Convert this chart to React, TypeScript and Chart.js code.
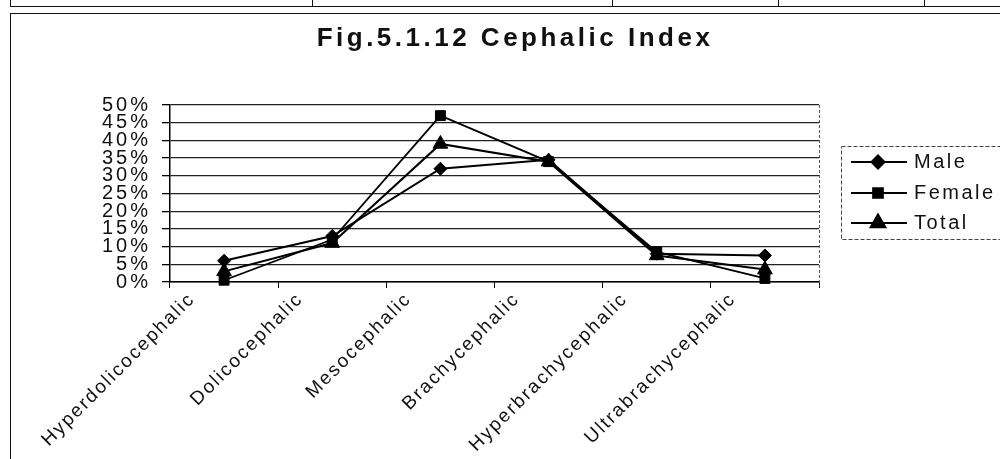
import React, { useEffect, useRef } from 'react';
import { Chart, registerables } from 'chart.js';
import { drawPoint } from 'chart.js/helpers';

Chart.register(...registerables);

const chartTitle = 'Fig.5.1.12 Cephalic Index';
const categories = [
  'Hyperdolicocephalic',
  'Dolicocephalic',
  'Mesocephalic',
  'Brachycephalic',
  'Hyperbrachycephalic',
  'Ultrabrachycephalic',
];
const seriesNames = ['Male', 'Female', 'Total'];
const maleValues = [6, 13, 32, 34.5, 8, 7.5];
const femaleValues = [0.5, 12, 47, 34, 8.5, 1];
const totalValues = [3, 11, 39, 34, 7.5, 3.5];
const yTickLabels = ['0%', '5%', '10%', '15%', '20%', '25%', '30%', '35%', '40%', '45%', '50%'];

const FONT = '"Liberation Sans", Arial, sans-serif';

function patchLabels(scale: any, spacing: string) {
  if (!scale || scale.__patched) return;
  const orig = scale.drawLabels;
  scale.drawLabels = function (ca: any) {
    const c = this.ctx;
    c.save();
    c.letterSpacing = spacing;
    orig.call(this, ca);
    c.restore();
  };
  scale.__patched = true;
}

const decorPlugin = {
  id: 'decor',
  beforeDraw(chart: any) {
    patchLabels(chart.scales.x, '2px');
    patchLabels(chart.scales.y, '3px');
  },
  beforeDatasetsDraw(chart: any) {
    const ctx = chart.ctx;
    const { right, top, bottom } = chart.chartArea;
    ctx.save();
    ctx.strokeStyle = '#555';
    ctx.lineWidth = 1;
    ctx.setLineDash([3, 2]);
    ctx.beginPath();
    ctx.moveTo(right + 0.5, top);
    ctx.lineTo(right + 0.5, bottom + 4);
    ctx.stroke();
    ctx.restore();
  },
  afterDraw(chart: any) {
    const ctx = chart.ctx;
    const area = chart.chartArea;
    // title
    ctx.save();
    ctx.font = `bold 26px ${FONT}`;
    ctx.letterSpacing = '3.5px';
    ctx.fillStyle = '#111';
    ctx.textAlign = 'center';
    ctx.textBaseline = 'middle';
    ctx.fillText(chartTitle, 515, 39);
    ctx.restore();

    // legend
    const lx = area.right + 22;
    const ly = area.top + 41;
    ctx.save();
    ctx.strokeStyle = '#444';
    ctx.lineWidth = 1;
    ctx.setLineDash([4, 2]);
    ctx.strokeRect(lx + 0.5, ly + 0.5, 175, 93);
    ctx.setLineDash([]);
    const rows = [16, 47, 77];
    chart.data.datasets.forEach((ds: any, i: number) => {
      const y = ly + rows[i];
      ctx.strokeStyle = ds.borderColor;
      ctx.fillStyle = ds.backgroundColor;
      ctx.lineWidth = ds.borderWidth;
      ctx.beginPath();
      ctx.moveTo(lx + 10, y);
      ctx.lineTo(lx + 66, y);
      ctx.stroke();
      drawPoint(ctx, { pointStyle: ds.pointStyle, radius: ds.pointRadius, rotation: 0, borderWidth: 1 }, lx + 37, y);
      ctx.font = `20px ${FONT}`;
      ctx.letterSpacing = '2.5px';
      ctx.fillStyle = '#111';
      ctx.textAlign = 'left';
      ctx.textBaseline = 'middle';
      ctx.fillText(ds.label, lx + 73, y);
    });
    ctx.restore();
  },
};

export default function App() {
  const ref = useRef<HTMLCanvasElement>(null);

  useEffect(() => {
    if (!ref.current) return;
    const chart = new Chart(ref.current, {
      type: 'line',
      data: {
        labels: categories,
        datasets: [
          {
            label: seriesNames[0],
            data: maleValues,
            borderColor: '#000',
            backgroundColor: '#000',
            borderWidth: 2,
            pointStyle: 'rectRot',
            pointRadius: 6.5,
            pointBorderWidth: 1,
            tension: 0,
            clip: false,
          },
          {
            label: seriesNames[1],
            data: femaleValues,
            borderColor: '#000',
            backgroundColor: '#000',
            borderWidth: 1.8,
            pointStyle: 'rect',
            pointRadius: 7,
            pointBorderWidth: 1,
            tension: 0,
            clip: false,
          },
          {
            label: seriesNames[2],
            data: totalValues,
            borderColor: '#000',
            backgroundColor: '#000',
            borderWidth: 2,
            pointStyle: 'triangle',
            pointRadius: 8.5,
            pointBorderWidth: 1,
            tension: 0,
            clip: false,
          },
        ],
      },
      options: {
        animation: false,
        responsive: false,
        devicePixelRatio: 1,
        layout: { padding: { left: 0, right: 181, top: 105, bottom: 0 } },
        plugins: {
          legend: { display: false },
          title: { display: false },
          tooltip: { enabled: false },
        },
        scales: {
          x: {
            type: 'category',
            offset: true,
            grid: {
              display: true,
              offset: true,
              drawOnChartArea: false,
              drawTicks: true,
              tickLength: 6,
              color: '#000',
              tickColor: '#000',
              lineWidth: 1,
            },
            border: { display: true, color: '#000', width: 1.5 },
            ticks: {
              autoSkip: false,
              minRotation: 45,
              maxRotation: 45,
              labelOffset: -32,
              padding: 0,
              color: '#111',
              font: { family: FONT, size: 19 },
            },
            afterFit: (s: any) => {
              s.height = 177;
            },
          },
          y: {
            min: 0,
            max: 50,
            ticks: {
              stepSize: 5,
              autoSkip: false,
              padding: 11,
              color: '#111',
              font: { family: FONT, size: 20, lineHeight: 1 },
              callback: (_v: any, i: number) => yTickLabels[i],
            },
            grid: {
              color: '#222',
              lineWidth: 1.3,
              drawTicks: true,
              tickLength: 8,
              tickColor: '#000',
            },
            border: { display: true, color: '#000', width: 1.5 },
            afterFit: (s: any) => {
              s.width = 170;
            },
          },
        },
      },
      plugins: [decorPlugin],
    });
    return () => chart.destroy();
  }, []);

  const topVerticals = [10, 312, 612, 778, 924];

  return (
    <div
      style={{
        position: 'fixed',
        left: 0,
        top: 0,
        width: 1000,
        height: 459,
        background: '#fff',
        overflow: 'hidden',
      }}
    >
      <div style={{ position: 'absolute', left: 10, top: 6, width: 990, borderTop: '1.5px solid #111' }} />
      {topVerticals.map((x) => (
        <div key={x} style={{ position: 'absolute', left: x, top: 0, height: 7, borderLeft: '1px solid #111' }} />
      ))}
      <div
        style={{
          position: 'absolute',
          left: 10,
          top: 13,
          width: 1100,
          height: 600,
          borderLeft: '1.5px solid #111',
          borderTop: '1.5px solid #111',
        }}
      />
      <canvas
        ref={ref}
        width={1000}
        height={459}
        style={{ position: 'absolute', left: 0, top: 0, width: 1000, height: 459 }}
      />
    </div>
  );
}
